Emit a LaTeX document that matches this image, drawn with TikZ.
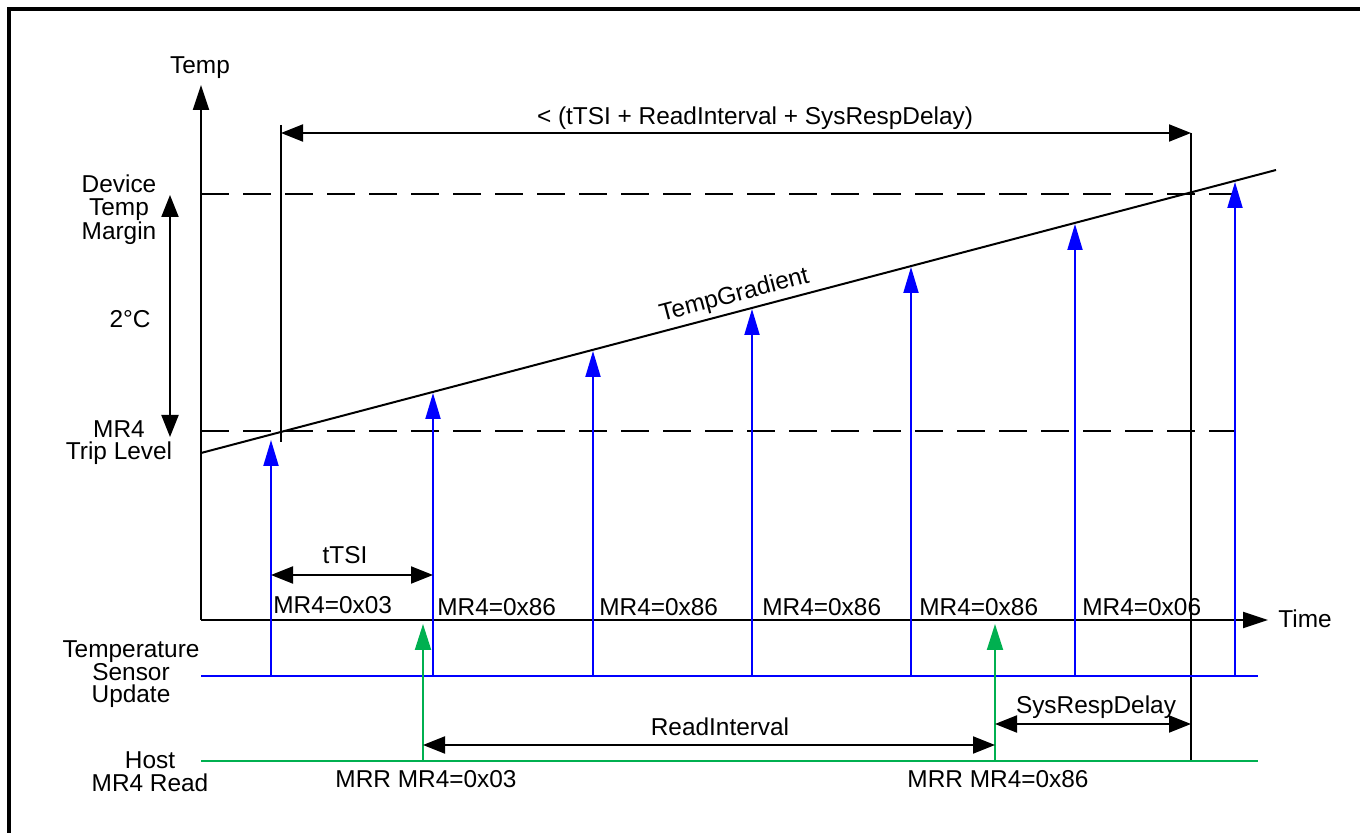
\documentclass[tikz,border=0pt]{standalone}
\usepackage{fontspec}
\setmainfont{Liberation Sans}
\usetikzlibrary{arrows.meta}
\definecolor{sblue}{RGB}{0,0,255}
\definecolor{hgreen}{RGB}{0,176,80}
\begin{document}
\begin{tikzpicture}[x=0.5pt,y=-0.5pt,
  lbl/.style={font=\fontsize{12.2}{11.3}\selectfont, inner sep=0pt, align=center},
  blk/.style={line width=1pt, black},
  axtip/.style={-{Triangle[length=12.5pt,width=8pt]}},
  dim/.style={{Triangle[length=11pt,width=8.5pt]}-{Triangle[length=11pt,width=8.5pt]}, line width=1pt},
  dline/.style={line width=1pt, dash pattern=on 14pt off 7pt},
  bl/.style={line width=1pt, sblue, -{Triangle[length=13pt,width=7.5pt]}},
  gr/.style={line width=1pt, hgreen},
  grtip/.style={line width=1pt, hgreen, -{Triangle[length=13pt,width=8pt]}},
  frame/.style={line width=1.6pt, black}]
\useasboundingbox (0,0) rectangle (1360,833);
% frame
\coordinate (f0) at (9,833);
\coordinate (f1) at (9,9);
\coordinate (f2) at (1360,9);
\draw[frame] (f0) -- (f1) -- (f2);

% axes
\coordinate (o) at (201,620);
\coordinate (ytip) at (201,85);
\coordinate (xtip) at (1268,620);
\draw[blk,axtip] (o) -- (ytip);
\draw[blk,axtip] (o) -- (xtip);
\node[lbl,anchor=base] (templbl) at (200,74) {Temp};
\node[lbl,anchor=base] (timelbl) at (1305,627) {Time};

% dashed levels
\coordinate (dm0) at (201,194); \coordinate (dm1) at (1235,194);
\coordinate (tl0) at (201,431); \coordinate (tl1) at (1235,431);
\draw[dline] (dm0) -- (dm1);
\draw[dline] (tl0) -- (tl1);

% gradient
\coordinate (g0) at (201,453); \coordinate (g1) at (1276,170);
\draw[blk] (g0) -- node[lbl,sloped,anchor=base,pos=0.5,yshift=5pt] (gradlbl) {TempGradient} (g1);

% verticals
\coordinate (v1a) at (281,125); \coordinate (v1b) at (281,442);
\coordinate (v2a) at (1191,133); \coordinate (v2b) at (1191,761);
\draw[blk] (v1a) -- (v1b);
\draw[blk] (v2a) -- (v2b);

% top dimension
\coordinate (d1a) at (281,133); \coordinate (d1b) at (1191,133);
\draw[dim] (d1a) -- (d1b);
\node[lbl,anchor=base] (toplbl) at (755,125) {< (tTSI + ReadInterval + SysRespDelay)};

% 2 C dimension
\coordinate (c1) at (170,195); \coordinate (c2) at (170,437);
\draw[dim] (c1) -- (c2);
\node[lbl,anchor=base] (dtm) at (119,240) {Device\\Temp\\Margin};
\node[lbl,anchor=base] (twoc) at (130,328) {2°C};
\node[lbl,anchor=base] (trip) at (119,460) {MR4\\Trip Level};

% sensor and host lines
\coordinate (sb0) at (201,676); \coordinate (sb1) at (1258,676);
\coordinate (hg0) at (201,761); \coordinate (hg1) at (1258,761);
\draw[line width=1pt, sblue] (sb0) -- (sb1);
\draw[gr] (hg0) -- (hg1);
\node[lbl,anchor=base] (tsu) at (131,703) {Temperature\\Sensor\\Update};
\node[lbl,anchor=base] (host) at (150,791) {Host\\MR4 Read};

% blue arrows
\foreach \i/\x/\t in {1/271/440,2/433/393,3/593/351,4/752/309,5/911/267,6/1075/224,7/1235/182}{
  \coordinate (sa\i) at (\x,676);
  \coordinate (st\i) at (\x,\t);
  \draw[bl] (sa\i) -- (st\i);
}
% MR4 values
\node[lbl,anchor=base west] (m1) at (273,614) {MR4=0x03};
\node[lbl,anchor=base west] (m2) at (437,616) {MR4=0x86};
\node[lbl,anchor=base west] (m3) at (599,616) {MR4=0x86};
\node[lbl,anchor=base west] (m4) at (762,616) {MR4=0x86};
\node[lbl,anchor=base west] (m5) at (919,616) {MR4=0x86};
\node[lbl,anchor=base west] (m6) at (1082,616) {MR4=0x06};

% green arrows
\coordinate (ga1) at (423,761); \coordinate (gt1) at (423,624);
\coordinate (ga2) at (995,761); \coordinate (gt2) at (995,624);
\draw[grtip] (ga1) -- (gt1);
\draw[grtip] (ga2) -- (gt2);
\node[lbl,anchor=base] (mrr1) at (426,787) {MRR MR4=0x03};
\node[lbl,anchor=base] (mrr2) at (998,787) {MRR MR4=0x86};

% tTSI
\coordinate (ta) at (271,575); \coordinate (tb) at (433,575);
\draw[dim] (ta) -- (tb);
\node[lbl,anchor=base] (ttsi) at (345,564) {tTSI};

% ReadInterval
\coordinate (ra) at (423,745); \coordinate (rb) at (995,745);
\draw[dim] (ra) -- (rb);
\node[lbl,anchor=base] (rilbl) at (720,735) {ReadInterval};

% SysRespDelay
\coordinate (sa) at (995,724); \coordinate (sbb) at (1191,724);
\draw[dim] (sa) -- (sbb);
\node[lbl,anchor=base] (srd) at (1096,713) {SysRespDelay};
\end{tikzpicture}
\end{document}
